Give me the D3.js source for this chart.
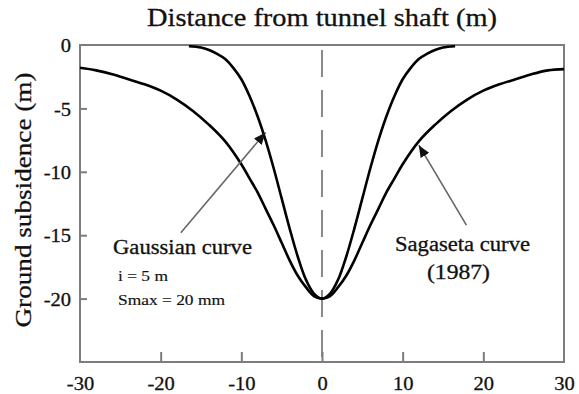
<!DOCTYPE html>
<html>
<head>
<meta charset="utf-8">
<script src="https://cdn.jsdelivr.net/npm/d3@7/dist/d3.min.js"></script>
<style>
  html, body { margin: 0; padding: 0; background: #fff; }
  svg text { font-family: "Liberation Serif", "Times New Roman", serif; fill: #111; stroke: #111; stroke-width: 0.3px; }
</style>
</head>
<body>
<svg id="chart" width="579" height="394"></svg>
<script>
// Gaussian settlement trough (i = 5 m, Smax = 20 mm)
const gaussX = [-16.5, -15, -14, -13, -12, -11, -10, -9, -8, -7, -6, -5, -4, -3, -2, -1, 0,
                1, 2, 3, 4, 5, 6, 7, 8, 9, 10, 11, 12, 13, 14, 15, 16.5];
const gaussY = [-0.1, -0.2, -0.4, -0.7, -1.1, -1.8, -2.7, -4.0, -5.6, -7.5, -9.7, -12.1, -14.5, -16.7, -18.5, -19.6, -20,
                -19.6, -18.5, -16.7, -14.5, -12.1, -9.7, -7.5, -5.6, -4.0, -2.7, -1.8, -1.1, -0.7, -0.4, -0.2, -0.1];

// Sagaseta (1987) settlement trough
const sagX = [-30, -28, -26, -24, -22, -20, -18, -16, -14, -12, -10, -9, -8, -7, -6, -5, -4, -3, -2, -1, 0,
              1, 2, 3, 4, 5, 6, 7, 8, 9, 10, 12, 14, 16, 18, 20, 22, 24, 26, 28, 30];
const sagY = [-1.8, -2.0, -2.3, -2.7, -3.1, -3.6, -4.3, -5.2, -6.3, -7.6, -9.4, -10.5, -11.6, -12.9, -14.2, -15.6, -17.0, -18.2, -19.1, -19.8, -20,
              -19.8, -19.1, -18.2, -17.0, -15.6, -14.2, -12.9, -11.6, -10.5, -9.4, -7.6, -6.3, -5.2, -4.3, -3.6, -3.1, -2.7, -2.3, -2.0, -1.9];

const xTicks = [-30, -20, -10, 0, 10, 20, 30];
const yTicks = [0, -5, -10, -15, -20];
const xDomain = [-30, 30];
const yDomain = [0, -25];

const titleText = "Distance from tunnel shaft (m)";
const yLabelText = "Ground subsidence (m)";

const svg = d3.select("#chart");
const plotLeft = 80, plotRight = 564, plotTop = 45, plotBottom = 362;

const x = d3.scaleLinear().domain(xDomain).range([plotLeft, plotRight]);
const y = d3.scaleLinear().domain(yDomain).range([plotTop, plotBottom]);

const axisColor = "#7d7d7d";

// stretch a text element along its baseline to a given width
function fitWidth(sel, w) {
  return sel.attr("textLength", w).attr("lengthAdjust", "spacingAndGlyphs");
}
// widen each text of a selection by a factor of its natural length
function widen(sel, k) {
  sel.each(function () {
    const len = this.getComputedTextLength();
    d3.select(this).attr("textLength", len * k).attr("lengthAdjust", "spacingAndGlyphs");
  });
}

// centre dashed line at x = 0
svg.append("line")
  .attr("x1", x(0)).attr("x2", x(0))
  .attr("y1", plotTop).attr("y2", plotBottom)
  .attr("stroke", "#8a8a8a").attr("stroke-width", 2)
  .attr("stroke-dasharray", "27,13").attr("stroke-dashoffset", 35);

// frame
svg.append("rect")
  .attr("x", plotLeft).attr("y", plotTop)
  .attr("width", plotRight - plotLeft).attr("height", plotBottom - plotTop)
  .attr("fill", "none").attr("stroke", axisColor).attr("stroke-width", 2);

const fmt = d => d < 0 ? "-" + Math.abs(d) : String(d);

// bottom axis: inward ticks
const xAxis = d3.axisBottom(x).tickValues(xTicks).tickSizeInner(-10).tickSizeOuter(0).tickFormat(fmt);
const gx = svg.append("g").attr("transform", `translate(0,${plotBottom})`).call(xAxis);
gx.select(".domain").remove();
gx.selectAll(".tick line").attr("stroke", axisColor).attr("stroke-width", 2)
  .attr("display", d => (d === -30 || d === 30) ? "none" : null);
gx.selectAll(".tick text").attr("y", 28).attr("dy", 0)
  .attr("font-size", 19).attr("fill", "#111")
  .style("font-family", '"Liberation Serif", serif')
  .call(widen, 1.08);

// left axis: inward ticks
const yAxis = d3.axisLeft(y).tickValues(yTicks).tickSizeInner(-7).tickSizeOuter(0).tickFormat(fmt);
const gy = svg.append("g").attr("transform", `translate(${plotLeft},0)`).call(yAxis);
gy.select(".domain").remove();
gy.selectAll(".tick line").attr("stroke", axisColor).attr("stroke-width", 2)
  .attr("display", d => d === 0 ? "none" : null);
gy.selectAll(".tick text").attr("x", -9).attr("dy", "0.35em")
  .attr("font-size", 19).attr("fill", "#111")
  .style("font-family", '"Liberation Serif", serif')
  .call(widen, 1.08);

// curves
const line = d3.line()
  .x(d => x(d[0])).y(d => y(d[1]))
  .curve(d3.curveCatmullRom.alpha(0.5));

svg.append("path")
  .datum(sagX.map((v, i) => [v, sagY[i]]))
  .attr("d", line).attr("fill", "none")
  .attr("stroke", "#000").attr("stroke-width", 2.6);

svg.append("path")
  .datum(gaussX.map((v, i) => [v, gaussY[i]]))
  .attr("d", line).attr("fill", "none")
  .attr("stroke", "#000").attr("stroke-width", 2.6);

// annotation arrows
svg.append("defs").append("marker")
  .attr("id", "head").attr("viewBox", "0 0 12 10")
  .attr("refX", 12).attr("refY", 5)
  .attr("markerWidth", 12).attr("markerHeight", 10)
  .attr("markerUnits", "userSpaceOnUse").attr("orient", "auto")
  .append("path").attr("d", "M0,0 L12,5 L0,10 Z").attr("fill", "#111");

const arrows = [
  { from: [-17.5, -14.8], to: [-7.0, -6.9] },
  { from: [17.9, -14.2], to: [12.0, -7.9] }
];
svg.selectAll(".arrow").data(arrows).enter().append("line")
  .attr("class", "arrow")
  .attr("x1", d => x(d.from[0])).attr("y1", d => y(d.from[1]))
  .attr("x2", d => x(d.to[0])).attr("y2", d => y(d.to[1]))
  .attr("stroke", "#666").attr("stroke-width", 1.6)
  .attr("marker-end", "url(#head)");

// title
fitWidth(svg.append("text")
  .attr("x", (plotLeft + plotRight) / 2).attr("y", 26)
  .attr("text-anchor", "middle").attr("font-size", 25)
  .text(titleText), 350);

// y-axis label
fitWidth(svg.append("text")
  .attr("transform", `translate(31,200) rotate(-90)`)
  .attr("text-anchor", "middle").attr("font-size", 24)
  .text(yLabelText), 255);

// curve labels
fitWidth(svg.append("text").attr("x", 113).attr("y", 254).attr("font-size", 20)
  .text("Gaussian curve"), 139);
fitWidth(svg.append("text").attr("x", 118).attr("y", 281).attr("font-size", 14)
  .text("i = 5 m"), 50).style("stroke-width", "0.15px");
fitWidth(svg.append("text").attr("x", 118).attr("y", 305).attr("font-size", 14)
  .text("Smax = 20 mm"), 107).style("stroke-width", "0.15px");
fitWidth(svg.append("text").attr("x", 395).attr("y", 251).attr("font-size", 20)
  .text("Sagaseta curve"), 135);
fitWidth(svg.append("text").attr("x", 427).attr("y", 279).attr("font-size", 20)
  .text("(1987)"), 63);
</script>
</body>
</html>
